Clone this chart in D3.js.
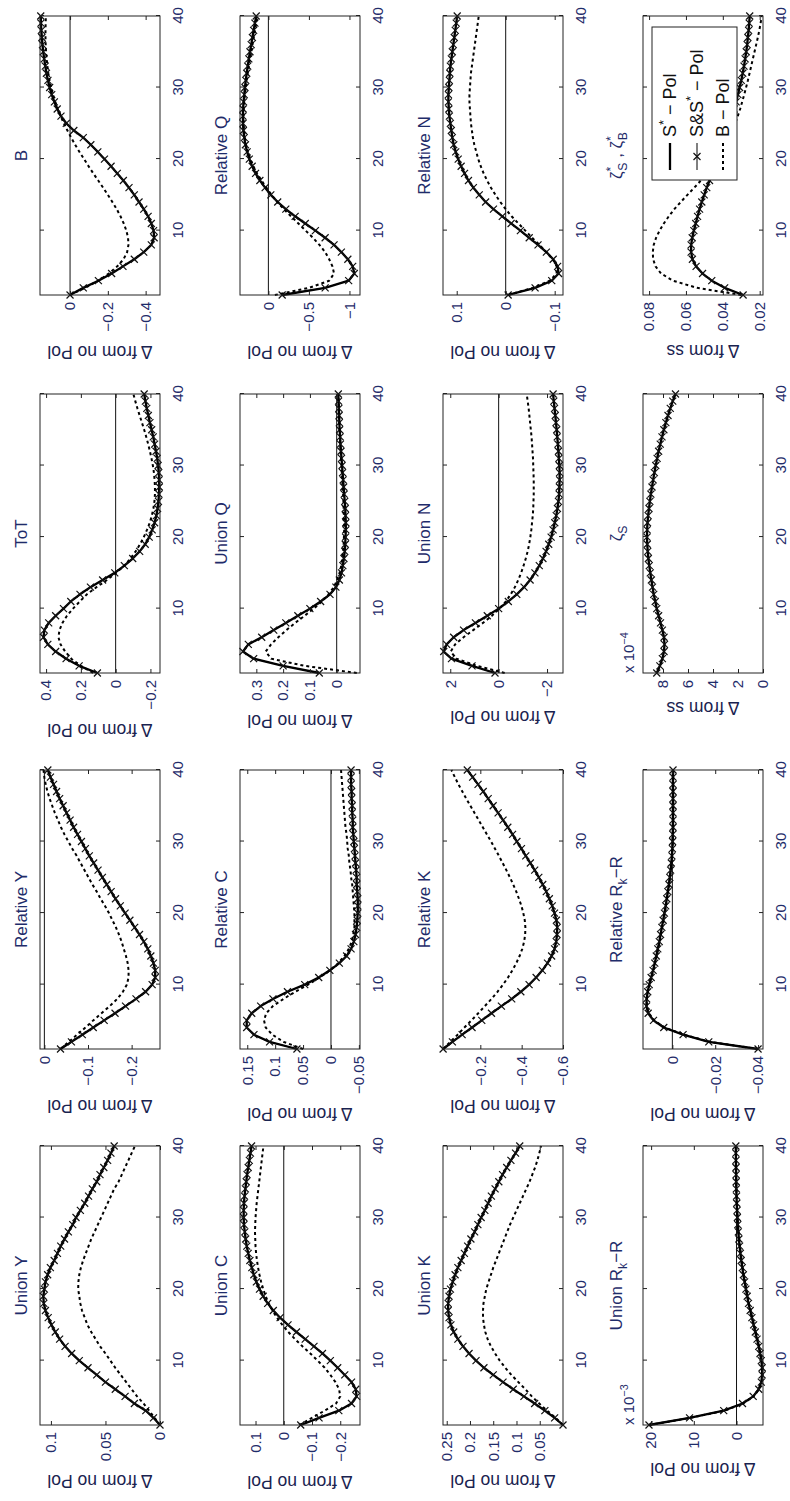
<!DOCTYPE html>
<html>
<head>
<meta charset="utf-8">
<script src="https://cdn.jsdelivr.net/npm/d3@7"></script>
<style>
  html, body { margin: 0; padding: 0; background: #fff; }
  svg { display: block; }
</style>
</head>
<body>
<svg id="fig" width="790" height="1501"></svg>
<script>
// ---- horizon (periods after the shock) ----
const periods = [1,2,3,4,5,6,7,8,9,10,11,12,13,14,15,16,17,18,19,20,21,22,23,24,25,26,27,28,29,30,31,32,33,34,35,36,37,38,39,40];
const xTicks = [10, 20, 30, 40];

// ---- impulse responses: S*-Pol / S&S*-Pol (solid) and B-Pol (dotted) ----
const unionY_S = [0,0.006,0.013,0.0235,0.032,0.041,0.05,0.058,0.066,0.074,0.081,0.087,0.092,0.096,0.0995,0.1025,0.105,0.1065,0.107,0.106,0.105,0.103,0.1005,0.097,0.094,0.091,0.0875,0.084,0.08,0.077,0.073,0.069,0.0655,0.062,0.058,0.055,0.0515,0.048,0.045,0.042];
const unionY_B = [0,0.005,0.01,0.015,0.021,0.026,0.031,0.036,0.041,0.0455,0.05,0.055,0.059,0.063,0.0665,0.069,0.0715,0.073,0.074,0.075,0.0748,0.074,0.0725,0.0705,0.068,0.0655,0.063,0.06,0.057,0.054,0.051,0.048,0.045,0.042,0.038,0.035,0.032,0.029,0.026,0.023];

const relY_S = [-0.037,-0.062,-0.087,-0.112,-0.137,-0.162,-0.186,-0.21,-0.232,-0.247,-0.254,-0.254,-0.25,-0.244,-0.237,-0.228,-0.218,-0.207,-0.196,-0.185,-0.174,-0.163,-0.153,-0.143,-0.133,-0.123,-0.113,-0.103,-0.094,-0.085,-0.076,-0.067,-0.059,-0.051,-0.043,-0.035,-0.028,-0.021,-0.014,-0.008];
const relY_B = [-0.037,-0.056,-0.075,-0.094,-0.112,-0.131,-0.15,-0.167,-0.18,-0.189,-0.193,-0.193,-0.191,-0.187,-0.182,-0.177,-0.171,-0.164,-0.156,-0.148,-0.139,-0.129,-0.12,-0.11,-0.101,-0.092,-0.083,-0.074,-0.064,-0.055,-0.046,-0.038,-0.031,-0.024,-0.018,-0.012,-0.007,-0.003,0,0.002];

const tot_S = [0.105,0.21,0.285,0.345,0.39,0.415,0.41,0.385,0.345,0.3,0.258,0.205,0.145,0.075,0.005,-0.05,-0.098,-0.138,-0.17,-0.193,-0.21,-0.224,-0.234,-0.241,-0.246,-0.249,-0.251,-0.25,-0.248,-0.244,-0.239,-0.232,-0.224,-0.216,-0.207,-0.197,-0.188,-0.179,-0.171,-0.164];
const tot_B = [0.13,0.2,0.255,0.29,0.317,0.329,0.323,0.306,0.28,0.245,0.206,0.165,0.11,0.05,-0.003,-0.05,-0.085,-0.115,-0.14,-0.162,-0.18,-0.196,-0.208,-0.217,-0.223,-0.226,-0.226,-0.224,-0.22,-0.214,-0.206,-0.197,-0.187,-0.176,-0.164,-0.151,-0.138,-0.125,-0.113,-0.102];

const b_S = [0,-0.07,-0.15,-0.22,-0.28,-0.34,-0.39,-0.43,-0.445,-0.442,-0.43,-0.413,-0.39,-0.365,-0.34,-0.312,-0.282,-0.25,-0.217,-0.182,-0.147,-0.11,-0.07,-0.02,0.02,0.048,0.068,0.083,0.097,0.108,0.117,0.125,0.131,0.137,0.142,0.146,0.149,0.152,0.154,0.155];
const b_B = [0,-0.08,-0.15,-0.205,-0.25,-0.283,-0.302,-0.309,-0.307,-0.298,-0.284,-0.267,-0.247,-0.224,-0.2,-0.175,-0.149,-0.123,-0.098,-0.074,-0.05,-0.027,-0.006,0.014,0.033,0.05,0.065,0.078,0.09,0.1,0.108,0.115,0.12,0.124,0.127,0.129,0.13,0.13,0.129,0.128];

const unionC_S = [-0.06,-0.125,-0.195,-0.24,-0.258,-0.255,-0.24,-0.216,-0.191,-0.165,-0.137,-0.107,-0.076,-0.045,-0.015,0.013,0.037,0.057,0.073,0.086,0.097,0.106,0.113,0.12,0.126,0.131,0.135,0.138,0.141,0.142,0.142,0.141,0.139,0.136,0.133,0.13,0.126,0.122,0.118,0.114];
const unionC_B = [-0.055,-0.1,-0.145,-0.185,-0.2,-0.196,-0.183,-0.165,-0.145,-0.12,-0.094,-0.066,-0.04,-0.016,0.005,0.024,0.04,0.053,0.064,0.073,0.08,0.086,0.091,0.095,0.098,0.1,0.101,0.102,0.101,0.1,0.098,0.096,0.093,0.09,0.087,0.084,0.081,0.078,0.075,0.072];

const relC_S = [0.061,0.11,0.138,0.151,0.151,0.142,0.126,0.104,0.078,0.047,0.022,0.002,-0.015,-0.028,-0.036,-0.041,-0.044,-0.046,-0.047,-0.048,-0.048,-0.048,-0.047,-0.046,-0.046,-0.045,-0.044,-0.043,-0.042,-0.041,-0.04,-0.039,-0.039,-0.038,-0.038,-0.037,-0.037,-0.036,-0.036,-0.036];
const relC_B = [0.05,0.085,0.105,0.117,0.12,0.116,0.104,0.085,0.064,0.041,0.02,0.002,-0.013,-0.024,-0.032,-0.037,-0.04,-0.042,-0.042,-0.042,-0.041,-0.04,-0.039,-0.038,-0.036,-0.035,-0.033,-0.032,-0.03,-0.029,-0.028,-0.026,-0.025,-0.024,-0.023,-0.022,-0.021,-0.02,-0.019,-0.018];

const unionQ_S = [0.065,0.2,0.31,0.35,0.33,0.28,0.235,0.19,0.145,0.1,0.06,0.025,0.003,-0.01,-0.018,-0.023,-0.027,-0.03,-0.032,-0.033,-0.034,-0.034,-0.033,-0.032,-0.03,-0.028,-0.026,-0.024,-0.022,-0.02,-0.018,-0.016,-0.014,-0.013,-0.011,-0.01,-0.009,-0.008,-0.007,-0.006];
const unionQ_B = [-0.075,0.12,0.245,0.265,0.245,0.218,0.188,0.155,0.12,0.086,0.055,0.03,0.011,-0.002,-0.011,-0.017,-0.021,-0.024,-0.026,-0.027,-0.028,-0.028,-0.027,-0.026,-0.025,-0.024,-0.022,-0.021,-0.019,-0.018,-0.016,-0.015,-0.013,-0.012,-0.011,-0.01,-0.009,-0.008,-0.007,-0.006];

const relQ_S = [-0.17,-0.7,-0.99,-1.06,-1.04,-0.98,-0.9,-0.81,-0.7,-0.58,-0.455,-0.33,-0.215,-0.115,-0.03,0.04,0.105,0.158,0.2,0.235,0.262,0.283,0.298,0.308,0.313,0.314,0.312,0.306,0.298,0.289,0.279,0.267,0.255,0.241,0.227,0.212,0.197,0.182,0.166,0.15];
const relQ_B = [-0.08,-0.5,-0.75,-0.81,-0.79,-0.75,-0.7,-0.63,-0.55,-0.46,-0.37,-0.28,-0.19,-0.11,-0.04,0.025,0.085,0.14,0.185,0.222,0.252,0.275,0.29,0.3,0.305,0.306,0.304,0.298,0.29,0.28,0.268,0.255,0.241,0.226,0.211,0.196,0.18,0.165,0.15,0.135];

const unionK_S = [0,0.018,0.039,0.061,0.084,0.107,0.129,0.15,0.17,0.187,0.202,0.215,0.226,0.235,0.241,0.245,0.247,0.247,0.245,0.242,0.237,0.232,0.226,0.219,0.212,0.205,0.198,0.19,0.183,0.176,0.168,0.161,0.154,0.146,0.138,0.13,0.121,0.112,0.102,0.093];
const unionK_B = [0,0.016,0.034,0.051,0.067,0.081,0.096,0.111,0.124,0.136,0.146,0.155,0.162,0.167,0.17,0.172,0.172,0.171,0.168,0.165,0.16,0.155,0.15,0.144,0.138,0.132,0.126,0.12,0.114,0.107,0.1,0.093,0.086,0.079,0.072,0.066,0.06,0.055,0.051,0.047];

const relK_S = [-0.02,-0.065,-0.112,-0.16,-0.207,-0.254,-0.302,-0.352,-0.396,-0.436,-0.47,-0.5,-0.525,-0.545,-0.559,-0.567,-0.571,-0.572,-0.568,-0.559,-0.548,-0.534,-0.519,-0.502,-0.483,-0.463,-0.442,-0.42,-0.399,-0.377,-0.356,-0.333,-0.31,-0.286,-0.262,-0.238,-0.214,-0.189,-0.163,-0.137];
const relK_B = [-0.02,-0.055,-0.09,-0.123,-0.157,-0.19,-0.222,-0.254,-0.283,-0.31,-0.334,-0.355,-0.374,-0.39,-0.403,-0.412,-0.417,-0.418,-0.415,-0.408,-0.399,-0.387,-0.374,-0.359,-0.343,-0.326,-0.308,-0.29,-0.271,-0.252,-0.232,-0.212,-0.192,-0.172,-0.152,-0.132,-0.113,-0.094,-0.077,-0.06];

const unionN_S = [0.15,1.1,1.95,2.27,2.15,1.86,1.45,0.96,0.47,0,-0.4,-0.75,-1.05,-1.3,-1.5,-1.68,-1.83,-1.96,-2.07,-2.17,-2.25,-2.32,-2.38,-2.43,-2.47,-2.5,-2.51,-2.52,-2.52,-2.51,-2.49,-2.47,-2.45,-2.42,-2.4,-2.37,-2.34,-2.31,-2.28,-2.25];
const unionN_B = [-0.25,0.9,1.75,1.98,1.8,1.45,1.05,0.65,0.28,-0.04,-0.3,-0.5,-0.67,-0.81,-0.93,-1.03,-1.12,-1.2,-1.26,-1.31,-1.35,-1.38,-1.41,-1.43,-1.44,-1.45,-1.45,-1.45,-1.44,-1.43,-1.42,-1.4,-1.38,-1.36,-1.33,-1.3,-1.27,-1.24,-1.2,-1.16];

const relN_S = [-0.005,-0.06,-0.094,-0.108,-0.106,-0.097,-0.083,-0.066,-0.048,-0.03,-0.011,0.007,0.025,0.041,0.054,0.066,0.076,0.084,0.091,0.097,0.102,0.106,0.109,0.111,0.113,0.115,0.116,0.117,0.117,0.116,0.115,0.114,0.113,0.111,0.109,0.107,0.105,0.103,0.101,0.099];
const relN_B = [-0.005,-0.055,-0.09,-0.104,-0.104,-0.096,-0.083,-0.069,-0.054,-0.04,-0.026,-0.012,0,0.011,0.021,0.03,0.038,0.045,0.051,0.056,0.06,0.064,0.067,0.069,0.071,0.072,0.073,0.074,0.074,0.073,0.072,0.071,0.069,0.067,0.065,0.063,0.061,0.059,0.057,0.055];

// Union Rk-R in units of 10^-3
const unionR_S = [20.5,11,3,-1.4,-3.9,-5.2,-5.8,-6,-6,-5.8,-5.5,-5.2,-4.8,-4.4,-4,-3.6,-3.2,-2.8,-2.5,-2.2,-1.9,-1.6,-1.35,-1.1,-0.9,-0.72,-0.56,-0.42,-0.3,-0.2,-0.12,-0.05,0,0.05,0.08,0.1,0.12,0.14,0.15,0.16];
const unionR_B = [20.5,10.8,2.8,-1.5,-4,-5.3,-5.9,-6.1,-6.1,-5.9,-5.6,-5.3,-4.9,-4.5,-4.1,-3.7,-3.3,-2.9,-2.6,-2.3,-2,-1.7,-1.45,-1.2,-1,-0.8,-0.63,-0.48,-0.36,-0.25,-0.16,-0.08,-0.02,0.02,0.05,0.08,0.1,0.12,0.13,0.14];

const relR_S = [-0.04,-0.017,-0.005,0.004,0.0088,0.0113,0.0121,0.012,0.0115,0.0108,0.0099,0.009,0.0082,0.0075,0.0068,0.0061,0.0055,0.0049,0.0043,0.0037,0.0031,0.0026,0.0021,0.0016,0.0012,0.0008,0.0005,0.0002,0,-0.0001,-0.0002,-0.0003,-0.0003,-0.0003,-0.0003,-0.0003,-0.0003,-0.0003,-0.0003,-0.0003];
const relR_B = [-0.04,-0.0175,-0.0055,0.0036,0.0084,0.011,0.0119,0.0119,0.0114,0.0107,0.0098,0.0089,0.0081,0.0073,0.0066,0.0059,0.0053,0.0047,0.0041,0.0035,0.003,0.0025,0.002,0.0015,0.0011,0.0007,0.0004,0.0001,-0.0001,-0.0002,-0.0003,-0.0004,-0.0004,-0.0004,-0.0004,-0.0004,-0.0004,-0.0004,-0.0004,-0.0004];

// zeta_S in units of 10^-4
const zetaS_S = [8.5,8.25,8.05,7.92,7.88,7.92,8.05,8.2,8.35,8.5,8.62,8.74,8.84,8.93,9.02,9.1,9.17,9.22,9.26,9.28,9.27,9.24,9.19,9.12,9.05,8.97,8.88,8.79,8.69,8.58,8.47,8.35,8.22,8.08,7.93,7.77,7.6,7.42,7.22,7.0];

const zetaStar_S = [0.029,0.039,0.046,0.051,0.0545,0.0565,0.0572,0.0572,0.0566,0.0557,0.0547,0.0537,0.0526,0.0514,0.0501,0.0487,0.0472,0.0457,0.0442,0.0428,0.0414,0.04,0.0387,0.0374,0.0362,0.035,0.0339,0.0328,0.0318,0.0309,0.03,0.0292,0.0285,0.0279,0.0273,0.0268,0.0264,0.026,0.0257,0.0254];
const zetaStar_B = [0.03,0.054,0.067,0.0735,0.0765,0.0778,0.078,0.0775,0.0762,0.0743,0.072,0.0693,0.0663,0.0628,0.0592,0.0555,0.0519,0.0486,0.0456,0.0429,0.0405,0.0384,0.0365,0.0348,0.0333,0.0319,0.0306,0.0295,0.0284,0.0274,0.0264,0.0255,0.0246,0.0237,0.0228,0.0219,0.021,0.0202,0.0195,0.0189];

// ---- y tick values per panel ----
const ticksUnionY = [0, 0.05, 0.1];
const ticksRelY = [-0.2, -0.1, 0];
const ticksToT = [-0.2, 0, 0.2, 0.4];
const ticksB = [-0.4, -0.2, 0];
const ticksUnionC = [-0.2, -0.1, 0, 0.1];
const ticksRelC = [-0.05, 0, 0.05, 0.1, 0.15];
const ticksUnionQ = [0, 0.1, 0.2, 0.3];
const ticksRelQ = [-1, -0.5, 0];
const ticksUnionK = [0.05, 0.1, 0.15, 0.2, 0.25];
const ticksRelK = [-0.6, -0.4, -0.2];
const ticksUnionN = [-2, 0, 2];
const ticksRelN = [-0.1, 0, 0.1];
const ticksUnionR = [0, 10, 20];
const ticksRelR = [-0.04, -0.02, 0];
const ticksZetaS = [0, 2, 4, 6, 8];
const ticksZetaStar = [0.02, 0.04, 0.06, 0.08];

const legendLabels = [
  [["S"], ["*", "sup"], [" \u2212 Pol"]],
  [["S&S"], ["*", "sup"], [" \u2212 Pol"]],
  [["B \u2212 Pol"]]
];

// ---- sheet layout (drawn landscape, then turned a quarter to the left) ----
const SHEET_W = 1501;
const colX = [76, 452, 828, 1206];
const rowY = [40, 240, 443, 643];
const PW = 279, PH = 120;
const FONT = "'Liberation Sans', Arial, Helvetica, sans-serif";
const INK = "#1f2c6a";
const DASH = "3,3";

const panels = [
  {row:0, col:0, title:[["Union Y"]], dom:[0, 0.11], ticks:ticksUnionY, s:unionY_S, b:unionY_B, zero:false},
  {row:0, col:1, title:[["Relative Y"]], dom:[-0.265, 0.01], ticks:ticksRelY, s:relY_S, b:relY_B, zero:true},
  {row:0, col:2, title:[["ToT"]], dom:[-0.255, 0.435], ticks:ticksToT, s:tot_S, b:tot_B, zero:true},
  {row:0, col:3, title:[["B"]], dom:[-0.476, 0.159], ticks:ticksB, s:b_S, b:b_B, zero:true},
  {row:1, col:0, title:[["Union C"]], dom:[-0.27, 0.155], ticks:ticksUnionC, s:unionC_S, b:unionC_B, zero:true},
  {row:1, col:1, title:[["Relative C"]], dom:[-0.052, 0.163], ticks:ticksRelC, s:relC_S, b:relC_B, zero:true},
  {row:1, col:2, title:[["Union Q"]], dom:[-0.087, 0.361], ticks:ticksUnionQ, s:unionQ_S, b:unionQ_B, zero:true},
  {row:1, col:3, title:[["Relative Q"]], dom:[-1.13, 0.35], ticks:ticksRelQ, s:relQ_S, b:relQ_B, zero:true},
  {row:2, col:0, title:[["Union K"]], dom:[0, 0.258], ticks:ticksUnionK, s:unionK_S, b:unionK_B, zero:false},
  {row:2, col:1, title:[["Relative K"]], dom:[-0.6, -0.0195], ticks:ticksRelK, s:relK_S, b:relK_B, zero:false},
  {row:2, col:2, title:[["Union N"]], dom:[-2.66, 2.3], ticks:ticksUnionN, s:unionN_S, b:unionN_B, zero:true},
  {row:2, col:3, title:[["Relative N"]], dom:[-0.117, 0.128], ticks:ticksRelN, s:relN_S, b:relN_B, zero:true},
  {row:3, col:0, title:[["Union R"], ["k", "sub"], ["\u2212R"]], dom:[-6.2, 21.9], ticks:ticksUnionR, s:unionR_S, b:unionR_B, zero:true, exp:"\u22123", titleLift:21},
  {row:3, col:1, title:[["Relative R"], ["k", "sub"], ["\u2212R"]], dom:[-0.0423, 0.0137], ticks:ticksRelR, s:relR_S, b:relR_B, zero:true, titleLift:21},
  {row:3, col:2, title:[["\u03B6"], ["S", "sub"]], dom:[0, 9.6], ticks:ticksZetaS, s:zetaS_S, b:null, zero:false, exp:"\u22124", ylabel:"\u0394 from ss", titleLift:21},
  {row:3, col:3, title:[["\u03B6"], ["*", "sup"], ["S", "sub", 4], [" , \u03B6"], ["*", "sup"], ["B", "sub", 4]], dom:[0.0182, 0.0833], ticks:ticksZetaStar, s:zetaStar_S, b:zetaStar_B, zero:false, ylabel:"\u0394 from ss", legend:true, titleLift:21}
];

const fmt = d => d < 0 ? "\u2212" + Math.abs(d) : String(d);

// text with super/subscript runs
function rich(textSel, segs, size) {
  let cur = 0;
  segs.forEach(([t, mode, back]) => {
    const target = mode === "sup" ? -0.42 * size : mode === "sub" ? 0.32 * size : 0;
    const ts = textSel.append("tspan").text(t)
      .attr("dy", (target - cur).toFixed(2))
      .attr("font-size", mode ? (size * 0.72).toFixed(1) : size);
    if (back) ts.attr("dx", -back);
    cur = target;
  });
}

const crossPath = "M-3.5,-3.5L3.5,3.5M-3.5,3.5L3.5,-3.5";

const svg = d3.select("#fig");
svg.append("rect").attr("width", 790).attr("height", 1501).attr("fill", "#fff");
const sheet = svg.append("g").attr("transform", `translate(0,${SHEET_W}) rotate(-90)`);

panels.forEach(p => {
  const g = sheet.append("g").attr("transform", `translate(${colX[p.col]},${rowY[p.row]})`);
  const x = d3.scaleLinear().domain([1, 40]).range([0, PW]);
  const y = d3.scaleLinear().domain(p.dom).range([PH, 0]);

  g.append("rect").attr("width", PW).attr("height", PH).attr("fill", "#fff");

  if (p.zero) {
    g.append("line").attr("x1", x(1)).attr("x2", x(40))
      .attr("y1", y(0)).attr("y2", y(0))
      .attr("stroke", "#111").attr("stroke-width", 1);
  }

  const line = d3.line().x((d, i) => x(periods[i])).y(d => y(d));

  // S*-Pol: heavy solid
  g.append("path").attr("d", line(p.s)).attr("fill", "none")
    .attr("stroke", "#000").attr("stroke-width", 2.3).attr("stroke-linejoin", "round");
  // S&S*-Pol: thin solid with crosses
  g.append("path").attr("d", line(p.s)).attr("fill", "none")
    .attr("stroke", "#000").attr("stroke-width", 1);
  g.append("g").selectAll("path").data(p.s).join("path")
    .attr("transform", (d, i) => `translate(${x(periods[i])},${y(d)})`)
    .attr("d", crossPath).attr("stroke", "#111").attr("stroke-width", 1.2).attr("fill", "none");
  // B-Pol: dotted
  if (p.b) {
    g.append("path").attr("d", line(p.b)).attr("fill", "none")
      .attr("stroke", "#000").attr("stroke-width", 2).attr("stroke-dasharray", DASH);
  }

  // axes: inward ticks on all four sides
  const styleAxis = a => {
    a.select(".domain").remove();
    a.selectAll(".tick line").attr("stroke", "#222");
    a.selectAll("text").attr("font-family", FONT).attr("font-size", 15).attr("fill", INK);
  };
  g.append("g").attr("transform", `translate(0,${PH})`)
    .call(d3.axisBottom(x).tickValues(xTicks).tickSizeInner(-4).tickSizeOuter(0).tickPadding(12))
    .call(styleAxis);
  g.append("g")
    .call(d3.axisTop(x).tickValues(xTicks).tickSizeInner(-4).tickSizeOuter(0).tickFormat(""))
    .call(styleAxis);
  const yAxis = g.append("g")
    .call(d3.axisLeft(y).tickValues(p.ticks).tickSizeInner(-4).tickSizeOuter(0).tickPadding(7).tickFormat(fmt))
    .call(styleAxis);
  g.append("g").attr("transform", `translate(${PW},0)`)
    .call(d3.axisRight(y).tickValues(p.ticks).tickSizeInner(-4).tickSizeOuter(0).tickFormat(""))
    .call(styleAxis);

  g.append("rect").attr("width", PW).attr("height", PH)
    .attr("fill", "none").attr("stroke", "#222").attr("stroke-width", 1);

  // y label placed clear of the tick labels
  const tw = d3.max(yAxis.selectAll("text").nodes(), n => n.getComputedTextLength());
  const lx = -7 - tw - 14;
  g.append("text")
    .attr("transform", `translate(${lx},${PH / 2}) rotate(-90)`)
    .attr("text-anchor", "middle")
    .attr("font-family", FONT).attr("font-size", 17.5).attr("fill", "#1a2350")
    .text(p.ylabel || "\u0394 from no Pol");

  const t = g.append("text")
    .attr("x", PW / 2).attr("y", -(p.titleLift || 13))
    .attr("text-anchor", "middle")
    .attr("font-family", FONT).attr("font-size", 17).attr("fill", INK);
  rich(t, p.title, 17);

  if (p.exp) {
    const e = g.append("text").attr("x", 0).attr("y", -9)
      .attr("font-family", FONT).attr("font-size", 15).attr("fill", INK);
    rich(e, [["x 10"], [p.exp, "sup"]], 15);
  }

  if (p.legend) {
    const L = g.append("g").attr("transform", "translate(115,9)");
    L.append("rect").attr("width", 153).attr("height", 85)
      .attr("fill", "#fff").attr("stroke", "#222").attr("stroke-width", 1);
    const rowsY = [18, 45, 71];
    const styles = [
      {w: 2.3, dash: null, mark: false},
      {w: 1, dash: null, mark: true},
      {w: 2, dash: DASH, mark: false}
    ];
    legendLabels.forEach((lab, i) => {
      const st = styles[i];
      const ln = L.append("line").attr("x1", 10).attr("x2", 37)
        .attr("y1", rowsY[i]).attr("y2", rowsY[i])
        .attr("stroke", "#000").attr("stroke-width", st.w);
      if (st.dash) ln.attr("stroke-dasharray", st.dash);
      if (st.mark) {
        L.append("path").attr("transform", `translate(23.5,${rowsY[i]})`)
          .attr("d", crossPath).attr("stroke", "#111").attr("stroke-width", 1.2);
      }
      const tx = L.append("text").attr("x", 43).attr("y", rowsY[i] + 6)
        .attr("font-family", FONT).attr("font-size", 18).attr("fill", "#111");
      rich(tx, lab, 18);
    });
  }
});
</script>
</body>
</html>
